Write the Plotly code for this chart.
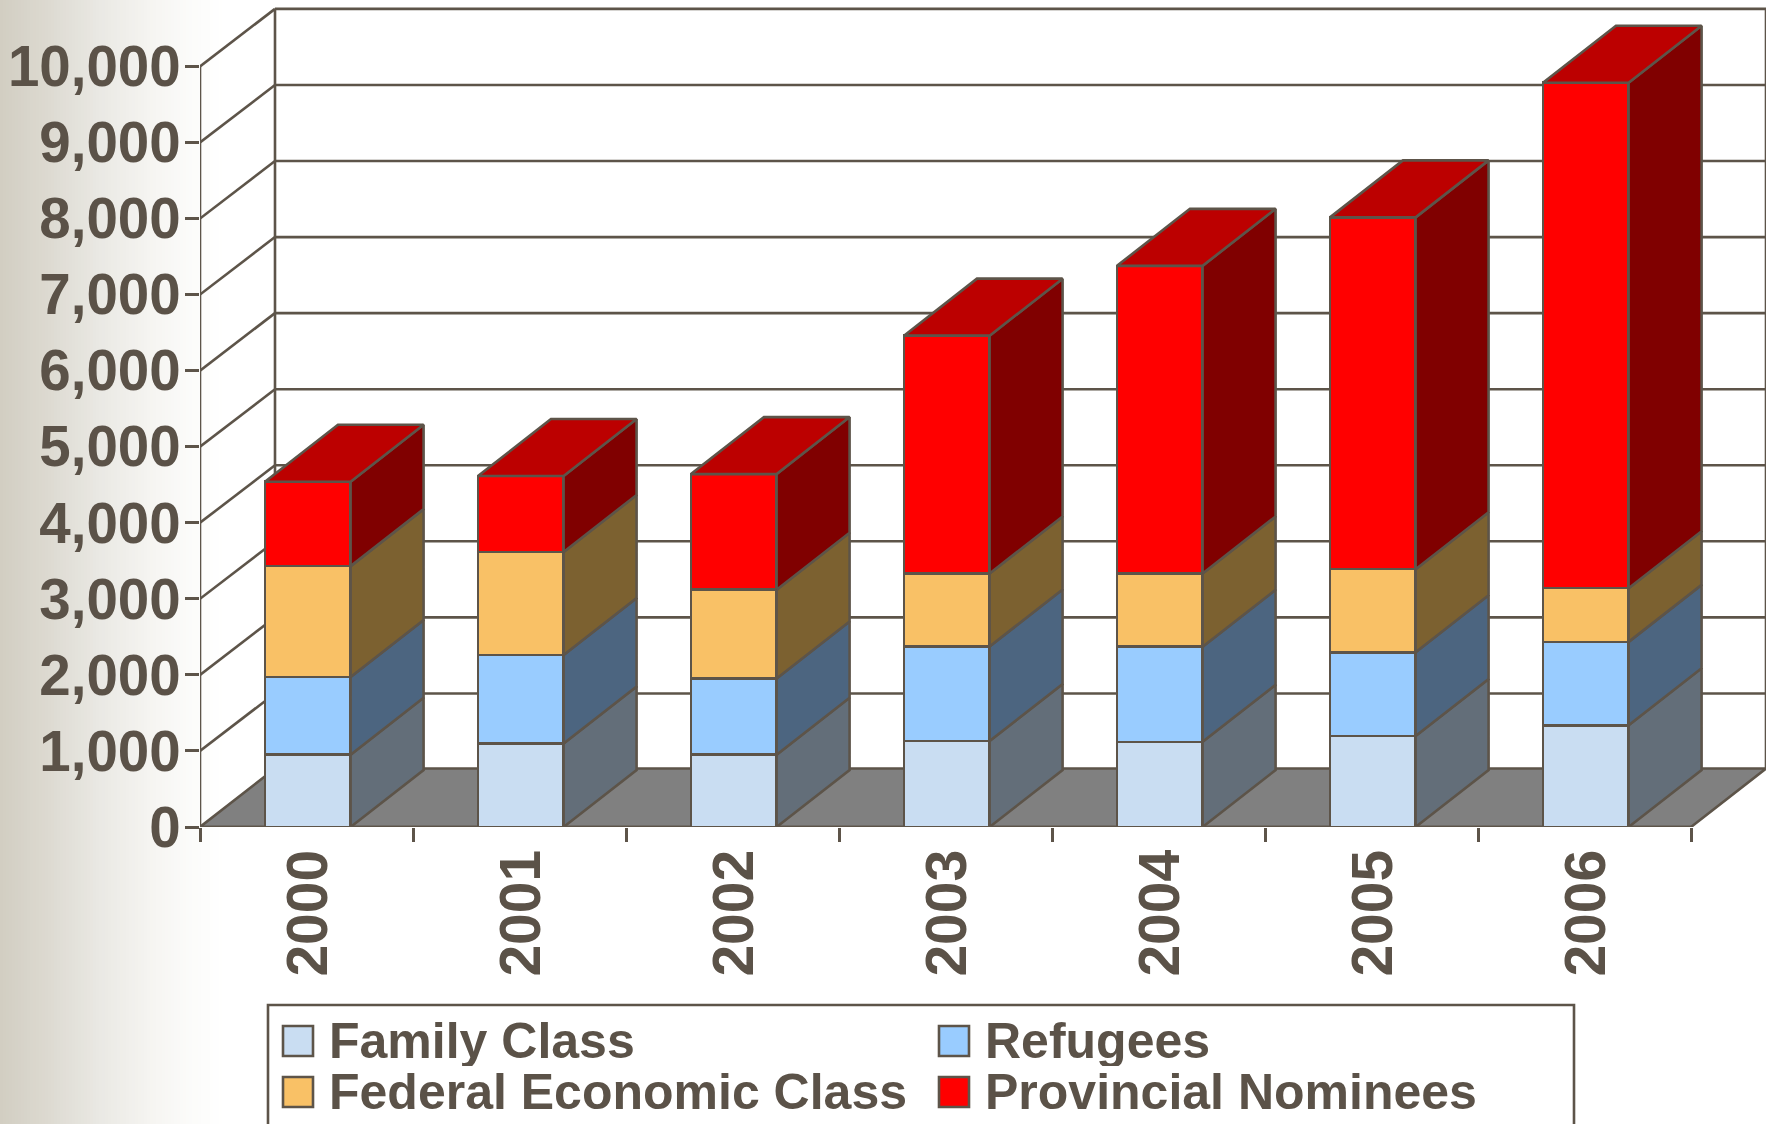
import plotly.graph_objects as go

YEARS = ["2000", "2001", "2002", "2003", "2004", "2005", "2006"]
FAMILY = [950, 1097, 950, 1130, 1120, 1196, 1338]
REFUGEES = [1022, 1164, 1003, 1244, 1250, 1102, 1096]
FEDERAL = [1458, 1355, 1167, 960, 964, 1092, 706]
PROVINCIAL = [1109, 998, 1520, 3126, 4044, 4625, 6645]
Y_TICKS = [0, 1000, 2000, 3000, 4000, 5000, 6000, 7000, 8000, 9000, 10000]
Y_LABELS = ["0", "1,000", "2,000", "3,000", "4,000", "5,000", "6,000", "7,000", "8,000", "9,000", "10,000"]

SERIES = [
    ("Family Class", FAMILY, "#C9DDF2", "#636E79"),
    ("Refugees", REFUGEES, "#99CCFF", "#4C6580"),
    ("Federal Economic Class", FEDERAL, "#F9C166", "#7C6130"),
    ("Provincial Nominees", PROVINCIAL, "#FF0000", "#800000"),
]
TOP_COLOR = "#BC0000"
INK = "#5B5248"
LINE = "#5D5449"
FLOOR = "#808080"
LW = 2.6
FONT = "Liberation Sans"

W, H = 1766, 1124
ML, MB = 200, 297
PX_PER_CAT = 213.0
PX_PER_1000 = 76.06
NCAT = len(YEARS)
XMAX = (W - ML) / PX_PER_CAT
YMAX = (H - MB) / PX_PER_1000 * 1000
WALL_DX = 75 / PX_PER_CAT
WALL_DY = 57.5 / PX_PER_1000 * 1000
FLOOR_DY = 58.5 / PX_PER_1000 * 1000
BAR_W = 0.402
BAR_SHIFT = 0.006
BAR_DX = 73 / PX_PER_CAT
BAR_DY = 57 / PX_PER_1000 * 1000
CENTERS = [i + 0.5 + BAR_SHIFT for i in range(NCAT)]
TOP_VAL = Y_TICKS[-1]

fig = go.Figure()

# front faces
for name, vals, front, side in SERIES:
    fig.add_trace(go.Bar(
        x=CENTERS, y=vals, width=BAR_W, name=name, showlegend=False,
        marker=dict(color=front, line=dict(color=LINE, width=LW)),
        hovertemplate=name + ": %{y:,}<extra></extra>",
    ))

# side faces and tops, from the same values
running = [0] * NCAT
for name, vals, front, side in SERIES:
    xs, ys = [], []
    for i, v in enumerate(vals):
        r = CENTERS[i] + BAR_W / 2
        lo, hi = running[i], running[i] + v
        xs += [r, r + BAR_DX, r + BAR_DX, r, r, None]
        ys += [lo, lo + BAR_DY, hi + BAR_DY, hi, lo, None]
        running[i] = hi
    fig.add_trace(go.Scatter(
        x=xs, y=ys, mode="lines", fill="toself", fillcolor=side,
        line=dict(color=LINE, width=LW), showlegend=False, hoverinfo="skip",
    ))
xs, ys = [], []
for i, t in enumerate(running):
    l, r = CENTERS[i] - BAR_W / 2, CENTERS[i] + BAR_W / 2
    xs += [l, l + BAR_DX, r + BAR_DX, r, l, None]
    ys += [t, t + BAR_DY, t + BAR_DY, t, t, None]
fig.add_trace(go.Scatter(
    x=xs, y=ys, mode="lines", fill="toself", fillcolor=TOP_COLOR,
    line=dict(color=LINE, width=LW), showlegend=False, hoverinfo="skip",
))

shapes = []

# left gradient band
STOPS = [(0, (210, 206, 194)), (44, (220, 217, 208)), (100, (234, 233, 228)),
         (152, (246, 245, 242)), (186, (251, 251, 249)), (222, (255, 255, 255))]
def grad(px):
    for (a, ca), (b, cb) in zip(STOPS, STOPS[1:]):
        if a <= px <= b:
            t = (px - a) / (b - a)
            return "rgb(%d,%d,%d)" % tuple(round(p + (q - p) * t) for p, q in zip(ca, cb))
    return "white"
def px_paper(px):
    return (px - ML) / (W - ML)
for px in range(0, 222, 3):
    shapes.append(dict(type="rect", xref="paper", yref="paper", layer="below",
                       x0=px_paper(px), x1=px_paper(px + 3),
                       y0=-MB / (H - MB), y1=1, line_width=0, fillcolor=grad(px)))

def seg(x0, y0, x1, y1):
    return dict(type="line", xref="x", yref="y", layer="below", x0=x0, y0=y0, x1=x1, y1=y1,
                line=dict(color=LINE, width=LW))

# floor
shapes.append(dict(type="path", xref="x", yref="y", layer="below",
                   path=f"M0,0 L{NCAT},0 L{NCAT + WALL_DX},{FLOOR_DY} L{WALL_DX},{FLOOR_DY} Z",
                   fillcolor=FLOOR, line=dict(color=LINE, width=LW)))
# walls
for v in Y_TICKS[1:]:
    shapes.append(seg(0, v, WALL_DX, v + WALL_DY))
    shapes.append(seg(WALL_DX, v + WALL_DY, NCAT + WALL_DX, v + WALL_DY))
shapes.append(seg(WALL_DX, FLOOR_DY, WALL_DX, TOP_VAL + WALL_DY))
shapes.append(seg(NCAT + WALL_DX, FLOOR_DY, NCAT + WALL_DX, TOP_VAL + WALL_DY))
shapes.append(seg(0, 0, 0, TOP_VAL))
shapes.append(seg(0, 0, NCAT, 0))

# legend box and keys
LEG_X = [283, 939]
LEG_Y = [1026, 1077]
KEY = 30
TEXT_DX = 44
def py_paper(py):
    return (H - MB - py) / (H - MB)
shapes.append(dict(type="rect", xref="paper", yref="paper", layer="below",
                   x0=px_paper(268), x1=px_paper(1574), y0=py_paper(1160), y1=py_paper(1005),
                   line=dict(color=LINE, width=LW), fillcolor="white"))
annotations = []
LEG_SLOTS = {"Family Class": (0, 0), "Refugees": (1, 0), "Federal Economic Class": (0, 1), "Provincial Nominees": (1, 1)}
for name, vals, front, side in SERIES:
    c, r = LEG_SLOTS[name]
    shapes.append(dict(type="rect", xref="paper", yref="paper", layer="above",
                       x0=px_paper(LEG_X[c]), x1=px_paper(LEG_X[c] + KEY),
                       y0=py_paper(LEG_Y[r] + KEY), y1=py_paper(LEG_Y[r]),
                       fillcolor=front, line=dict(color=LINE, width=LW)))
    annotations.append(dict(xref="paper", yref="paper", x=px_paper(LEG_X[c] + TEXT_DX),
                            y=py_paper(LEG_Y[r] + KEY / 2), text=name, showarrow=False,
                            xanchor="left", yanchor="middle", height=50,
                            font=dict(family=FONT, size=50, color=INK, weight="bold")))

fig.update_layout(
    width=W, height=H, autosize=False,
    margin=dict(l=ML, r=0, t=0, b=MB, pad=0),
    paper_bgcolor="white", plot_bgcolor="rgba(0,0,0,0)",
    barmode="stack", showlegend=False, shapes=shapes, annotations=annotations,
    font=dict(family=FONT, color=INK),
    xaxis=dict(range=[0, XMAX], tickmode="array", tickvals=CENTERS, ticktext=YEARS,
               tickangle=-90, ticks="outside", ticklen=1, tickcolor="rgba(0,0,0,0)",
               ticklabelshift=1, ticklabelstandoff=-2,
               tickfont=dict(family=FONT, size=57, color=INK, weight="bold"),
               showgrid=False, zeroline=False, showline=False, fixedrange=True,
               minor=dict(tickmode="array", tickvals=list(range(NCAT + 1)), ticks="outside",
                          ticklen=14, tickwidth=LW, tickcolor=LINE, showgrid=False)),
    yaxis=dict(range=[0, YMAX], tickmode="array", tickvals=Y_TICKS, ticktext=Y_LABELS,
               ticks="outside", ticklen=14, tickwidth=LW, tickcolor=LINE,
               ticklabelstandoff=-7,
               tickfont=dict(family=FONT, size=56.5, color=INK, weight="bold"),
               showgrid=False, zeroline=False, showline=False, fixedrange=True),
)

fig.write_html("out.html", config={"displayModeBar": False},
               post_script="document.body.style.margin='0';document.body.style.overflow='hidden';")
